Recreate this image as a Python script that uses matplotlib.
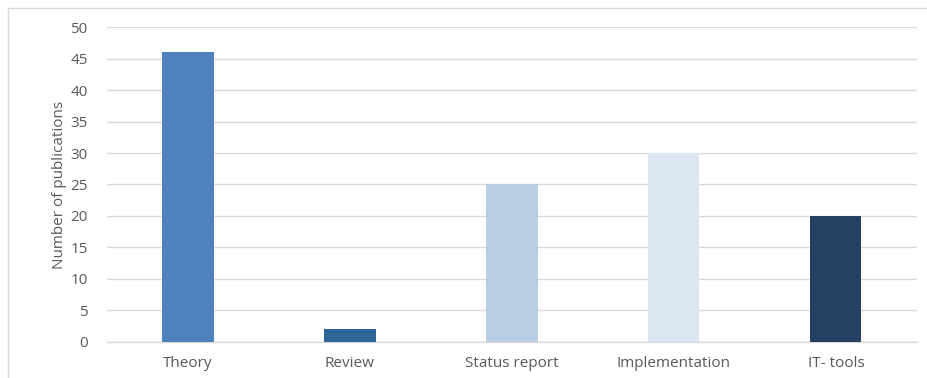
import matplotlib
matplotlib.use("Agg")
import matplotlib.pyplot as plt
from matplotlib.patches import Rectangle

categories = ["Theory", "Review", "Status report", "Implementation", "IT- tools"]
counts = [46, 2, 25, 30, 20]
bar_colors = ["#4F81BD", "#2C6496", "#B9CDE5", "#DCE6F2", "#254061"]
yticks = [0, 5, 10, 15, 20, 25, 30, 35, 40, 45, 50]

plt.rcParams['font.family'] = ['Open Sans', 'DejaVu Sans']
text_color = "#595959"

fig = plt.figure(figsize=(9.28, 3.78), dpi=100)
ax = fig.add_axes([0.1153, 0.096, 0.8727, 0.832])

# chart frame
fig.patches.append(Rectangle((8.5 / 928, -0.05), 1.0, 1.0 - 7.5 / 378 + 0.05,
                             transform=fig.transFigure, fill=False,
                             edgecolor="#D9D9D9", linewidth=1.0))

x = range(len(categories))
ax.bar(x, counts, width=0.316, color=bar_colors, zorder=3)

ax.set_xlim(-0.5, len(categories) - 0.5)
ax.set_ylim(0, 50)
ax.set_yticks(yticks)
ax.set_xticks(list(x))
ax.set_xticklabels(categories)

ax.yaxis.grid(True, color="#D9D9D9", linewidth=1.0, zorder=0)
ax.set_axisbelow(True)
for side in ["top", "right", "left"]:
    ax.spines[side].set_visible(False)
ax.spines["bottom"].set_color("#D9D9D9")
ax.spines["bottom"].set_linewidth(1.0)

ax.tick_params(axis="both", length=0, colors=text_color, labelsize=11)
ax.tick_params(axis="y", pad=14)
ax.tick_params(axis="x", pad=10)
ax.set_ylabel("Number of publications", color=text_color, fontsize=11, labelpad=2)

fig.savefig("out.png", dpi=100)
